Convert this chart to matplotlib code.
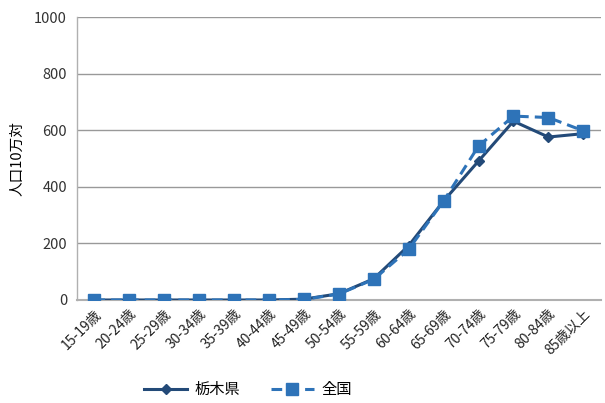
import matplotlib
matplotlib.use("Agg")
import matplotlib.pyplot as plt
from matplotlib.lines import Line2D

plt.rcParams['font.family'] = ['Noto Sans CJK JP', 'DejaVu Sans']

categories = ["15-19歳", "20-24歳", "25-29歳", "30-34歳", "35-39歳", "40-44歳", "45-49歳",
              "50-54歳", "55-59歳", "60-64歳", "65-69歳", "70-74歳", "75-79歳", "80-84歳", "85歳以上"]
tochigi = [0, 0, 0, 0, 0, 0, 3, 22, 75, 192, 350, 491, 632, 576, 588]
zenkoku = [0, 0, 0, 0, 0, 0, 2, 21, 73, 179, 350, 544, 650, 645, 598]
yticks = [0, 200, 400, 600, 800, 1000]

fig = plt.figure(figsize=(6.05, 4.03), dpi=100)
ax = fig.add_axes([0.127, 0.2556, 0.866, 0.702])

x = list(range(len(categories)))
c_t = '#234A78'
c_z = '#2E73B8'
ax.plot(x, tochigi, color=c_t, lw=2.2, marker='D', ms=5, zorder=3)
ax.plot(x, zenkoku, color=c_z, lw=2.2, ls=(0, (3.5, 2)), marker='s', ms=8, zorder=4)

ax.set_xlim(-0.5, len(categories) - 0.5)
ax.set_ylim(0, 1000)
ax.set_yticks(yticks)
ax.set_yticklabels([str(v) for v in yticks], fontsize=10.5, color='#333333')
ax.set_xticks(x)
ax.set_xticklabels(categories, rotation=45, ha='right', rotation_mode='anchor', fontsize=10, color='#222222')
ax.tick_params(axis='both', length=0, pad=7)
ax.tick_params(axis='x', pad=5)
ax.grid(axis='y', color='#999999', lw=1)
ax.set_axisbelow(True)
for s in ['top', 'right']:
    ax.spines[s].set_visible(False)
ax.spines['left'].set_color('#b0b0b0')
ax.spines['bottom'].set_color('#b0b0b0')
ax.spines['left'].set_linewidth(1)
ax.spines['bottom'].set_linewidth(1.5)
ax.set_ylabel("人口10万対", fontsize=10.5, labelpad=7)

handles = [Line2D([], [], color=c_t, lw=2.2, marker='D', ms=5),
           Line2D([], [], color=c_z, lw=2.2, ls=(0, (3.5, 2)), marker='s', ms=8)]
fig.legend(handles, ["栃木県", "全国"], loc='center', bbox_to_anchor=(0.41, 0.033), ncol=2,
           frameon=False, fontsize=11, handlelength=2.8, handletextpad=0.5, columnspacing=2.0)

fig.savefig("out.png", dpi=100)
